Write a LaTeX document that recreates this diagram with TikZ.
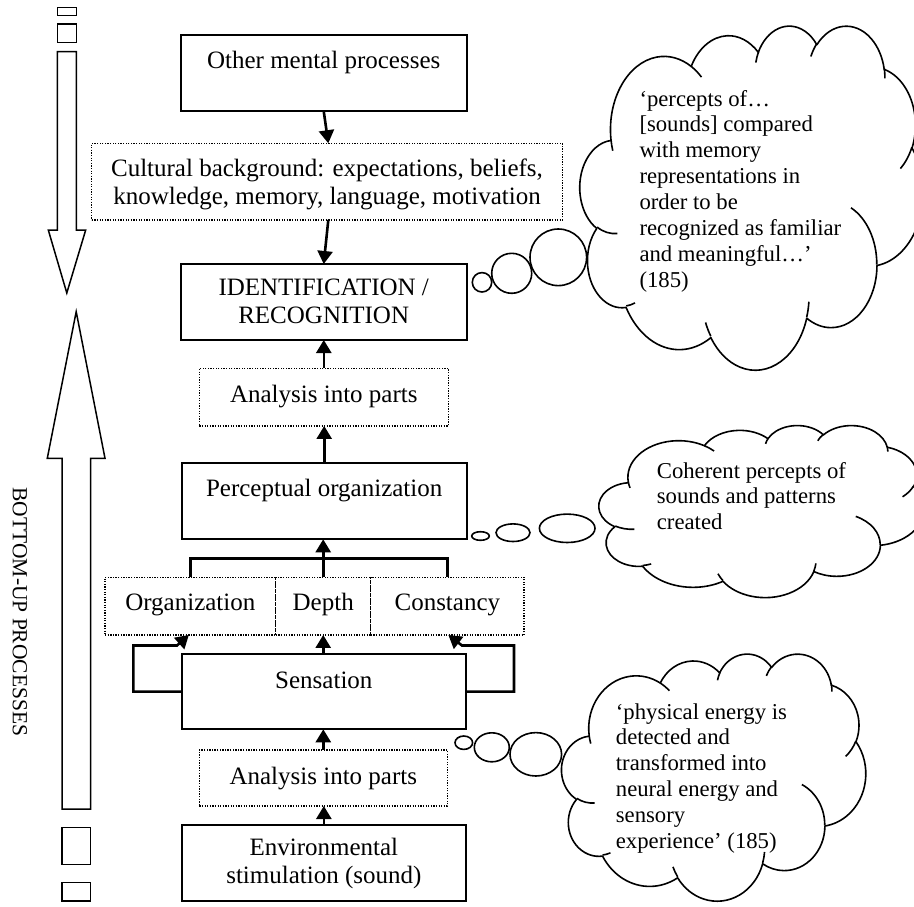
\documentclass[tikz,border=0pt]{standalone}
\usepackage{fontspec}
\setmainfont{Liberation Serif}
\usetikzlibrary{arrows.meta,calc}

% One elliptical arc of the cloud outline: radii #1,#2, start angle #3 and sweep #4
% given as visual (polar) angles, turned into the parametric angles TikZ expects.
\newcommand\carc[4]{arc[x radius=#1, y radius=#2,
  start angle={atan2((#1)*sin(#3),(#2)*cos(#3))},
  delta angle={mod(atan2((#1)*sin((#3)+(#4)),(#2)*cos((#3)+(#4)))-atan2((#1)*sin(#3),(#2)*cos(#3))+720,360)}]}

% Thought cloud fitted into the box with top-left corner (#1,#2), width #3, height #4
\newcommand\thoughtcloud[4]{%
  \begin{scope}[shift={(#1,#2)}, xscale={#3/43.2}, yscale={#4/43.2}]
    \draw[cloudline, fill=white] (3.900,14.370)
      \carc{6.753}{9.190}{-190.4875}{123.7805}
      \carc{5.333}{7.267}{-144.1024}{89.9452}
      \carc{4.365}{5.945}{-145.8079}{99.7230}
      \carc{4.857}{6.595}{-130.9861}{117.2417}
      \carc{5.333}{7.273}{-78.7089}{109.0269}
      \carc{6.775}{9.220}{-46.2673}{130.2690}
      \carc{5.785}{7.867}{0.6250}{114.0333}
      \carc{6.752}{9.215}{22.4516}{115.1726}
      \carc{7.720}{10.543}{66.2426}{75.7110}
      \carc{4.360}{5.918}{-274.9421}{146.7356}
      \carc{4.345}{5.945}{-246.8285}{152.5189}
      -- cycle;
    \draw[cloudline]
      (4.693,26.177) \carc{4.345}{5.945}{86.7420}{26.4295}
      (6.928,34.899) \carc{4.360}{5.918}{73.6105}{11.4475}
      (16.478,39.090) \carc{6.752}{9.215}{137.6242}{14.0811}
      (28.827,34.751) \carc{6.752}{9.215}{6.4533}{15.9984}
      (34.129,22.954) \carc{5.785}{7.867}{-70.2924}{70.9174}
      (41.798,15.354) \carc{5.333}{7.273}{30.3180}{27.7515}
      (38.324,5.426) \carc{4.857}{6.595}{-13.7443}{14.8589}
      (29.078,3.952) \carc{4.857}{6.595}{-149.1815}{18.1954}
      (22.141,4.720) \carc{4.365}{5.945}{-163.4943}{17.6864}
      (14.000,5.192) \carc{6.753}{9.190}{-66.7070}{12.3194}
      (4.127,15.789) \carc{6.753}{9.190}{157.6544}{11.8582};
  \end{scope}}

\begin{document}
\begin{tikzpicture}[x=1pt, y=-1pt,
  box/.style={draw, line width=2pt, inner sep=0pt, outer sep=0pt},
  dotbox/.style={draw, line width=1.3pt, dash pattern=on 1.3pt off 1.3pt, inner sep=0pt, outer sep=0pt},
  txt/.style={inner sep=0pt, anchor=base, font=\fontsize{25}{27.7}\selectfont},
  cloudtxt/.style={inner sep=0pt, anchor=base west, font=\fontsize{22.7}{25.9}\selectfont},
  link/.style={line width=2.6pt},
  arr/.style={link, -{Triangle[length=13pt, width=15pt]}},
  cloudline/.style={line width=1.6pt, line join=round},
  blockarrow/.style={draw, line width=1.5pt, fill=white, line join=miter},
  bubble/.style={draw, line width=1.6pt, fill=white},
]
\useasboundingbox (0,0) rectangle (914,906);

% ---- left margin: top-down and bottom-up block arrows ----
\draw[blockarrow] (57.3,7.3) rectangle (76.3,15.3);
\draw[blockarrow] (57.3,24) rectangle (76.3,42.7);
\draw[blockarrow] (57.3,51.7) -- (76.3,51.7) -- (76.3,230) -- (85.7,230)
  -- (66.8,293) -- (48.3,230) -- (57.3,230) -- cycle;

\draw[blockarrow] (62.2,809) -- (62.2,458.3) -- (47.3,458.3) -- (76.2,311.7)
  -- (105,458.3) -- (90.7,458.3) -- (90.7,809) -- cycle;
\draw[blockarrow] (62.2,827.3) rectangle (90.7,864.3);
\draw[blockarrow] (62.2,882.7) rectangle (90.7,901);

\node[rotate=-90, inner sep=0pt, font=\fontsize{21.5}{24}\selectfont] (bottomup) at (20,612) {BOTTOM-UP PROCESSES};

% ---- main column ----
\node[box, minimum width=286pt, minimum height=76pt] (other) at (323.7,73) {};
\node[txt] at (323.7,68.5) {Other mental processes};

\node[dotbox, minimum width=470.6pt, minimum height=76.7pt] (culture) at (327,181.6) {};
\node[txt] at (327,176.3) {\begin{tabular}[t]{@{}c@{}}Cultural background: expectations, beliefs,\\ knowledge, memory, language, motivation\end{tabular}};

\node[box, minimum width=286pt, minimum height=76pt] (ident) at (323.7,302) {};
\node[txt] at (323.7,295.5) {\begin{tabular}[t]{@{}c@{}}IDENTIFICATION /\\ RECOGNITION\end{tabular}};

\node[dotbox, minimum width=249pt, minimum height=57.7pt] (partsA) at (323.8,397.1) {};
\node[txt] at (323.8,402.3) {Analysis into parts};

\node[box, minimum width=285pt, minimum height=76pt] (percept) at (324.2,501.3) {};
\node[txt] at (324.2,496) {Perceptual organization};

\node[dotbox, minimum width=170.7pt, minimum height=57.7pt] (organ) at (190.35,606.1) {};
\node[dotbox, minimum width=95pt, minimum height=57.7pt] (depth) at (323.2,606.1) {};
\node[dotbox, minimum width=153.3pt, minimum height=57.7pt] (const) at (447.35,606.1) {};
\node[txt] at (190.35,610.5) {Organization};
\node[txt] at (323.2,610.5) {Depth};
\node[txt] at (447.35,610.5) {Constancy};

\node[box, minimum width=284.3pt, minimum height=75.3pt] (sens) at (323.85,691.65) {};
\node[txt] at (323.85,688) {Sensation};

\node[dotbox, minimum width=248pt, minimum height=56pt] (partsB) at (323.3,778) {};
\node[txt] at (323.3,784) {Analysis into parts};

\node[box, minimum width=284.3pt, minimum height=76pt] (env) at (323.85,863) {};
\node[txt] at (323.85,855.5) {\begin{tabular}[t]{@{}c@{}}Environmental\\ stimulation (sound)\end{tabular}};

% ---- connectors ----
\draw[arr] (other.south) -- ($(culture.north)+(1.3,0)$);
\draw[arr] ($(culture.south)+(1.3,0)$) -- (ident.north);
\draw[arr] (partsA.north) -- (partsA.north |- ident.south);
\draw[arr] (percept.north) -- (percept.north |- partsA.south);
\draw[arr] (depth.north) -- (depth.north |- percept.south);
\coordinate (bar) at (323.2,558.3);
\draw[link] (organ.north) |- (bar) -| (const.north);

\draw[arr] (depth.south |- sens.north) -- (depth.south);
\coordinate (lcorner) at (133.3,645.5);
\coordinate (rcorner) at (514,645.5);
\draw[arr] (sens.west) -| (lcorner) -- ++(43.7,0) -- ($(organ.south)+(-1.5,0)$);
\draw[arr] (sens.east) -| (rcorner) -- ++(-52,0) -- ($(const.south)+(1,0)$);

\draw[arr] (partsB.north) -- (partsB.north |- sens.south);
\draw[arr] (env.north) -- (env.north |- partsB.south);

% ---- thought clouds ----
\draw[bubble] (482,282.3) circle[radius=9.7];
\draw[bubble] (511.7,273.3) circle[radius=20];
\draw[bubble] (558.3,257.3) circle[radius=28.3];
\thoughtcloud{580}{25}{343}{344}
\node[cloudtxt] (quoteA) at (639.3,106) {\begin{tabular}[t]{@{}l@{}}‘percepts of…\\ {[sounds]} compared\\ with memory\\ representations in\\ order to be\\ recognized as familiar\\ and meaningful…’\\ (185)\end{tabular}};

\draw[bubble] (480.5,536) ellipse[x radius=8.8, y radius=4.3];
\draw[bubble] (513,532.7) ellipse[x radius=17, y radius=8.8];
\draw[bubble] (567.2,528.3) ellipse[x radius=27.8, y radius=14.2];
\thoughtcloud{599}{425}{325}{172}
\node[cloudtxt] (quoteB) at (656.7,478) {\begin{tabular}[t]{@{}l@{}}Coherent percepts of\\ sounds and patterns\\ created\end{tabular}};

\draw[bubble] (463.8,742.7) ellipse[x radius=8.8, y radius=6.7];
\draw[bubble] (491.8,747.3) ellipse[x radius=17.5, y radius=14.5];
\draw[bubble] (535.8,754.3) ellipse[x radius=25.8, y radius=21.7];
\thoughtcloud{561.7}{653.3}{304}{247}
\node[cloudtxt] (quoteC) at (615.7,719) {\begin{tabular}[t]{@{}l@{}}‘physical energy is\\ detected and\\ transformed into\\ neural energy and\\ sensory\\ experience’ (185)\end{tabular}};
\end{tikzpicture}
\end{document}
